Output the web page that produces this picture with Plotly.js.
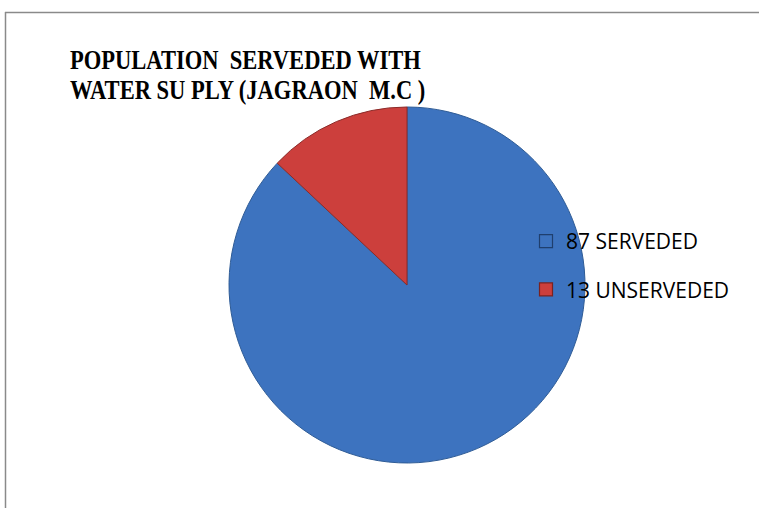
<!DOCTYPE html>
<html>
<head>
<meta charset="utf-8">
<script src="https://cdn.plot.ly/plotly-3.0.1.min.js"></script>
<style>
html,body{margin:0;padding:0;background:#fff;}
#chart{width:759px;height:508px;}
#chart .gtitle{transform-box:view-box;transform-origin:70px 0px;transform:scaleX(0.835);}
</style>
</head>
<body>
<div id="chart"></div>
<script>
const titleLines = ["POPULATION\u00a0 SERVEDED WITH", "WATER SU PLY (JAGRAON\u00a0 M.C )"];
const categories = ["87 SERVEDED", "13 UNSERVEDED"];
const values = [87, 13];
const colors = ["#3d73bf", "#cc3f3c"];
const edgeColors = ["#2f5c96", "#8c2b29"];
const legendEdge = ["#1f3f6e", "#7a2220"];

const pie = {
  type: "pie",
  labels: categories,
  values: values,
  sort: false,
  direction: "clockwise",
  rotation: 0,
  textinfo: "none",
  hoverinfo: "label+value",
  showlegend: false,
  marker: {colors: colors, line: {color: edgeColors, width: 1}},
  domain: {x: [229/759, 585/759], y: [1 - 463/508, 1 - 107/508]}
};

const legendTraces = categories.map((c, i) => ({
  type: "scatter",
  mode: "markers",
  x: [null], y: [null],
  name: c,
  legendgroup: "g" + i,
  showlegend: true,
  marker: {symbol: "square", size: 13, color: colors[i], line: {color: legendEdge[i], width: 1.2}},
  hoverinfo: "skip"
}));

const layout = {
  width: 759, height: 508,
  margin: {l: 0, r: 0, t: 0, b: 0, autoexpand: false},
  paper_bgcolor: "#ffffff",
  plot_bgcolor: "rgba(0,0,0,0)",
  xaxis: {visible: false},
  yaxis: {visible: false},
  title: {
    text: titleLines.map(s => '<span style="font-size:27px">' + s + '</span>').join("<br>"),
    font: {family: "Liberation Serif, Times New Roman, serif", size: 23, color: "#000", weight: "bold"},
    xref: "paper", yref: "paper",
    x: 70/759, xanchor: "left",
    y: 1 - 69/508, yanchor: "top"
  },
  showlegend: true,
  legend: {
    xref: "paper", yref: "paper",
    x: 526/759, xanchor: "left",
    y: 1 - 221/508, yanchor: "top",
    font: {family: "Open Sans, sans-serif", size: 21, color: "#000"},
    tracegroupgap: 18,
    bgcolor: "rgba(0,0,0,0)"
  },
  shapes: [
    {type: "line", xref: "paper", yref: "paper", x0: 5.5/759, x1: 5.5/759, y0: 1 - 12/508, y1: -0.1, line: {color: "#8a8a8a", width: 1.5}},
    {type: "line", xref: "paper", yref: "paper", x0: 5/759, x1: 1.1, y0: 1 - 12.5/508, y1: 1 - 12.5/508, line: {color: "#8a8a8a", width: 1.5}}
  ]
};

Plotly.newPlot("chart", [pie].concat(legendTraces), layout, {displayModeBar: false, staticPlot: true});
</script>
</body>
</html>
